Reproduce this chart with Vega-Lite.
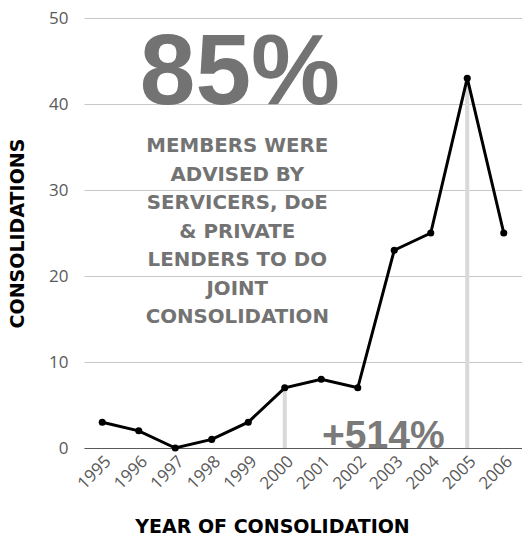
{
  "$schema": "https://vega.github.io/schema/vega-lite/v6.json",
  "width": 438,
  "height": 430,
  "autosize": "none",
  "padding": {"left": 84, "top": 18, "right": 0, "bottom": 90},
  "background": "white",
  "config": {"view": {"stroke": null}},
  "datasets": {
    "series": [
      {"year": 1995, "count": 3},
      {"year": 1996, "count": 2},
      {"year": 1997, "count": 0},
      {"year": 1998, "count": 1},
      {"year": 1999, "count": 3},
      {"year": 2000, "count": 7},
      {"year": 2001, "count": 8},
      {"year": 2002, "count": 7},
      {"year": 2003, "count": 23},
      {"year": 2004, "count": 25},
      {"year": 2005, "count": 43},
      {"year": 2006, "count": 25}
    ],
    "bars": [
      {"year": 2000, "count": 7, "base": 0},
      {"year": 2005, "count": 43, "base": 0}
    ],
    "big": [{"year": 1998.77, "count": 40, "label": "85%"}],
    "note": [{"year": 1998.7, "count": 35.1, "label": "MEMBERS WERE\n ADVISED BY\nSERVICERS, DoE\n& PRIVATE\nLENDERS TO DO\nJOINT\nCONSOLIDATION"}],
    "growth": [{"year": 2002.7, "count": 0, "label": "+514%"}]
  },
  "encoding": {
    "x": {
      "field": "year", "type": "quantitative",
      "scale": {"domain": [1994.5, 2006.5], "nice": false, "zero": false},
      "axis": {
        "values": [1995, 1996, 1997, 1998, 1999, 2000, 2001, 2002, 2003, 2004, 2005, 2006],
        "format": "d", "labelAngle": -45, "grid": false, "ticks": false,
        "domain": true, "domainColor": "#595959", "domainWidth": 1,
        "labelFont": "Open Sans", "labelFontSize": 17, "labelColor": "#595959",
        "labelPadding": 5, "labelFlush": false, "labelOverlap": false, "labelBound": false,
        "title": "YEAR OF CONSOLIDATION", "titleFont": "DejaVu Sans", "titleFontSize": 19,
        "titleFontWeight": "bold", "titleColor": "#000000", "titlePadding": 26,
        "titleX": 188
      }
    },
    "y": {
      "field": "count", "type": "quantitative",
      "scale": {"domain": [0, 50], "nice": false},
      "axis": {
        "values": [0, 10, 20, 30, 40, 50], "grid": true, "gridColor": "#c8c8c8",
        "gridWidth": 1, "ticks": false, "domain": false,
        "labelFont": "Open Sans", "labelFontSize": 17, "labelColor": "#595959",
        "labelPadding": 16,
        "title": "CONSOLIDATIONS", "titleFont": "DejaVu Sans", "titleFontSize": 19,
        "titleFontWeight": "bold", "titleColor": "#000000", "titlePadding": 21
      }
    }
  },
  "layer": [
    {
      "data": {"name": "bars"},
      "mark": {"type": "rule", "color": "#d9d9d9", "strokeWidth": 4},
      "encoding": {
        "y2": {"field": "base"}
      }
    },
    {
      "data": {"name": "series"},
      "mark": {"type": "line", "color": "#000000", "strokeWidth": 3, "point": {"filled": true, "size": 50, "color": "#000000"}},
      "encoding": {}
    },
    {
      "data": {"name": "big"},
      "mark": {"type": "text", "font": "Liberation Sans", "fontWeight": "bold", "fontSize": 100, "color": "#737373", "align": "center", "baseline": "alphabetic"},
      "encoding": {
        "text": {"field": "label"}
      }
    },
    {
      "data": {"name": "note"},
      "mark": {"type": "text", "font": "DejaVu Sans", "fontWeight": "bold", "fontSize": 19.8, "color": "#737373", "align": "center", "baseline": "middle", "lineBreak": "\n", "lineHeight": 28.5},
      "encoding": {
        "text": {"field": "label"}
      }
    },
    {
      "data": {"name": "growth"},
      "mark": {"type": "text", "font": "Liberation Sans", "fontWeight": "bold", "fontSize": 39, "color": "#7a7a7a", "align": "center", "baseline": "alphabetic"},
      "encoding": {
        "text": {"field": "label"}
      }
    }
  ]
}
